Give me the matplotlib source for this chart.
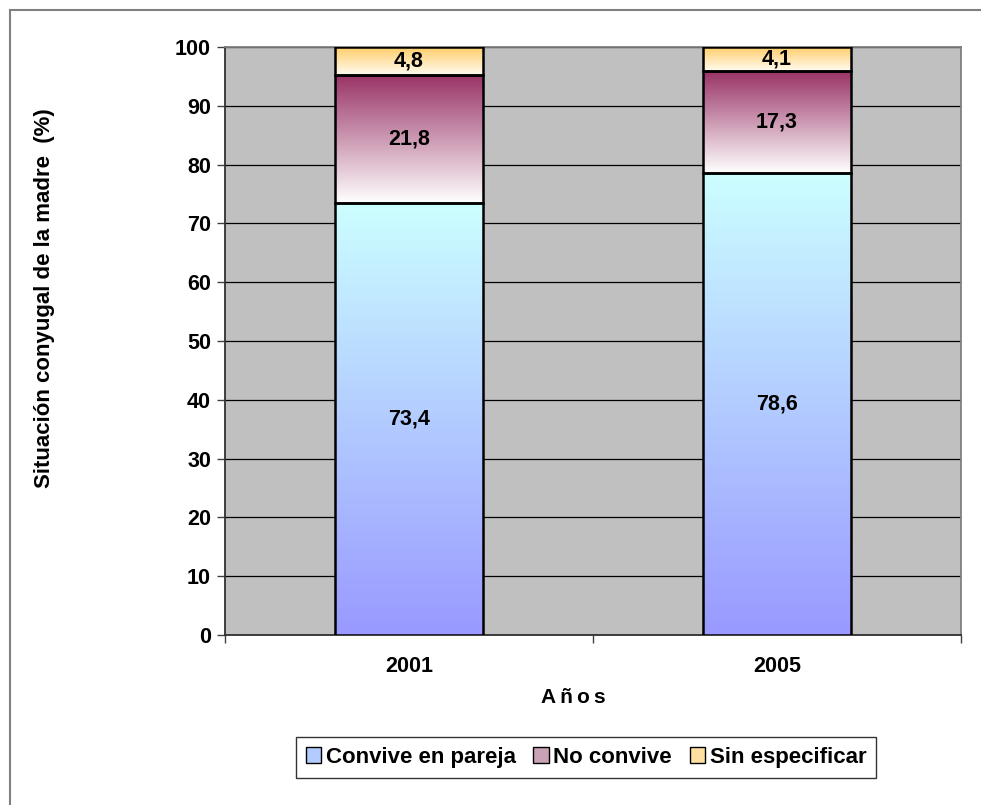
import numpy as np
import matplotlib.pyplot as plt
from matplotlib.colors import LinearSegmentedColormap
from matplotlib.lines import Line2D
from matplotlib.patches import Patch

# --- Data ---
years = ['2001', '2005']
convive = [73.4, 78.6]
no_convive = [21.8, 17.3]
sin_especificar = [4.8, 4.1]
series_names = ['Convive en pareja', 'No convive', 'Sin especificar']

# gradient colours (bottom -> top) per series
grad_colors = [('#9999ff', '#ccffff'), ('#ffffff', '#993366'), ('#fffbf0', '#ffcc66')]
legend_colors = ['#b3ccff', '#c9a3b5', '#ffe0a0']

plt.rcParams['font.family'] = ['Liberation Sans', 'DejaVu Sans']
plt.rcParams['font.weight'] = 'bold'
FS = 15.5

fig = plt.figure(figsize=(9.81, 8.05), dpi=100)
ax = fig.add_axes([225 / 981, 1 - 635 / 805, (961 - 225) / 981, (635 - 47) / 805])
ax.set_facecolor('#c0c0c0')

x = np.arange(len(years))
width = 0.4
grad = np.linspace(0, 1, 256).reshape(-1, 1)

bottoms = np.zeros(len(years))
for vals, (c0, c1) in zip([convive, no_convive, sin_especificar], grad_colors):
    cmap = LinearSegmentedColormap.from_list('g', [c0, c1])
    ax.bar(x, vals, width, bottom=bottoms, facecolor='none',
           edgecolor='black', linewidth=1.8, zorder=4)
    for xi, b, v in zip(x, bottoms, vals):
        ax.imshow(grad, cmap=cmap, origin='lower', aspect='auto',
                  extent=[xi - width / 2, xi + width / 2, b, b + v], zorder=3)
        ax.text(xi, b + v / 2, f'{v:.1f}'.replace('.', ','), ha='center', va='center',
                fontsize=FS, fontweight='bold', zorder=5)
    bottoms = bottoms + np.array(vals)

ax.set_xlim(-0.5, 1.5)
ax.set_ylim(0, 100)
ax.set_yticks(range(0, 101, 10))
ax.yaxis.grid(True, color='black', linewidth=0.9, zorder=1)
ax.set_axisbelow(True)

ax.set_xticks(x)
ax.set_xticklabels(years, fontsize=FS, fontweight='bold')
ax.set_xticks([-0.5, 0.5, 1.5], minor=True)
ax.tick_params(axis='x', which='major', length=0, pad=15)
ax.tick_params(axis='x', which='minor', length=6, width=1, color='#404040')
ax.tick_params(axis='y', length=6, width=1, color='#404040', labelsize=FS, pad=4)
for lab in ax.get_yticklabels():
    lab.set_fontweight('bold')

for side in ['left', 'bottom']:
    ax.spines[side].set_color('#303030')
    ax.spines[side].set_linewidth(1.3)
for side in ['right', 'top']:
    ax.spines[side].set_color('#808080')
    ax.spines[side].set_linewidth(1.3)

fig.text(45 / 981, 1 - 298 / 805, 'Situación conyugal de la madre  (%)', rotation=90,
         ha='center', va='center', fontsize=16, fontweight='bold')
fig.text(573 / 981, 1 - 697 / 805, '\u2009'.join('Años'), ha='center', va='center',
         fontsize=15, fontweight='bold', family=['Liberation Sans', 'DejaVu Sans'])

handles = [Patch(facecolor=c, edgecolor='black', linewidth=1) for c in legend_colors]
leg = fig.legend(handles, series_names, loc='center', bbox_to_anchor=(586 / 981, 1 - 757 / 805),
                 ncol=3, frameon=True, fancybox=False, fontsize=16, handlelength=0.7,
                 handleheight=0.7, handletextpad=0.2, columnspacing=0.8, borderpad=0.45,
                 edgecolor='black')
leg.get_frame().set_linewidth(1)
for t in leg.get_texts():
    t.set_fontweight('bold')

# outer chart border (left and top only visible)
fig.add_artist(Line2D([10 / 981, 10 / 981], [0, 1 - 10 / 805], transform=fig.transFigure,
                      color='#808080', linewidth=1.5))
fig.add_artist(Line2D([10 / 981, 1], [1 - 10 / 805, 1 - 10 / 805], transform=fig.transFigure,
                      color='#808080', linewidth=1.5))

fig.savefig('out.png', dpi=100)
